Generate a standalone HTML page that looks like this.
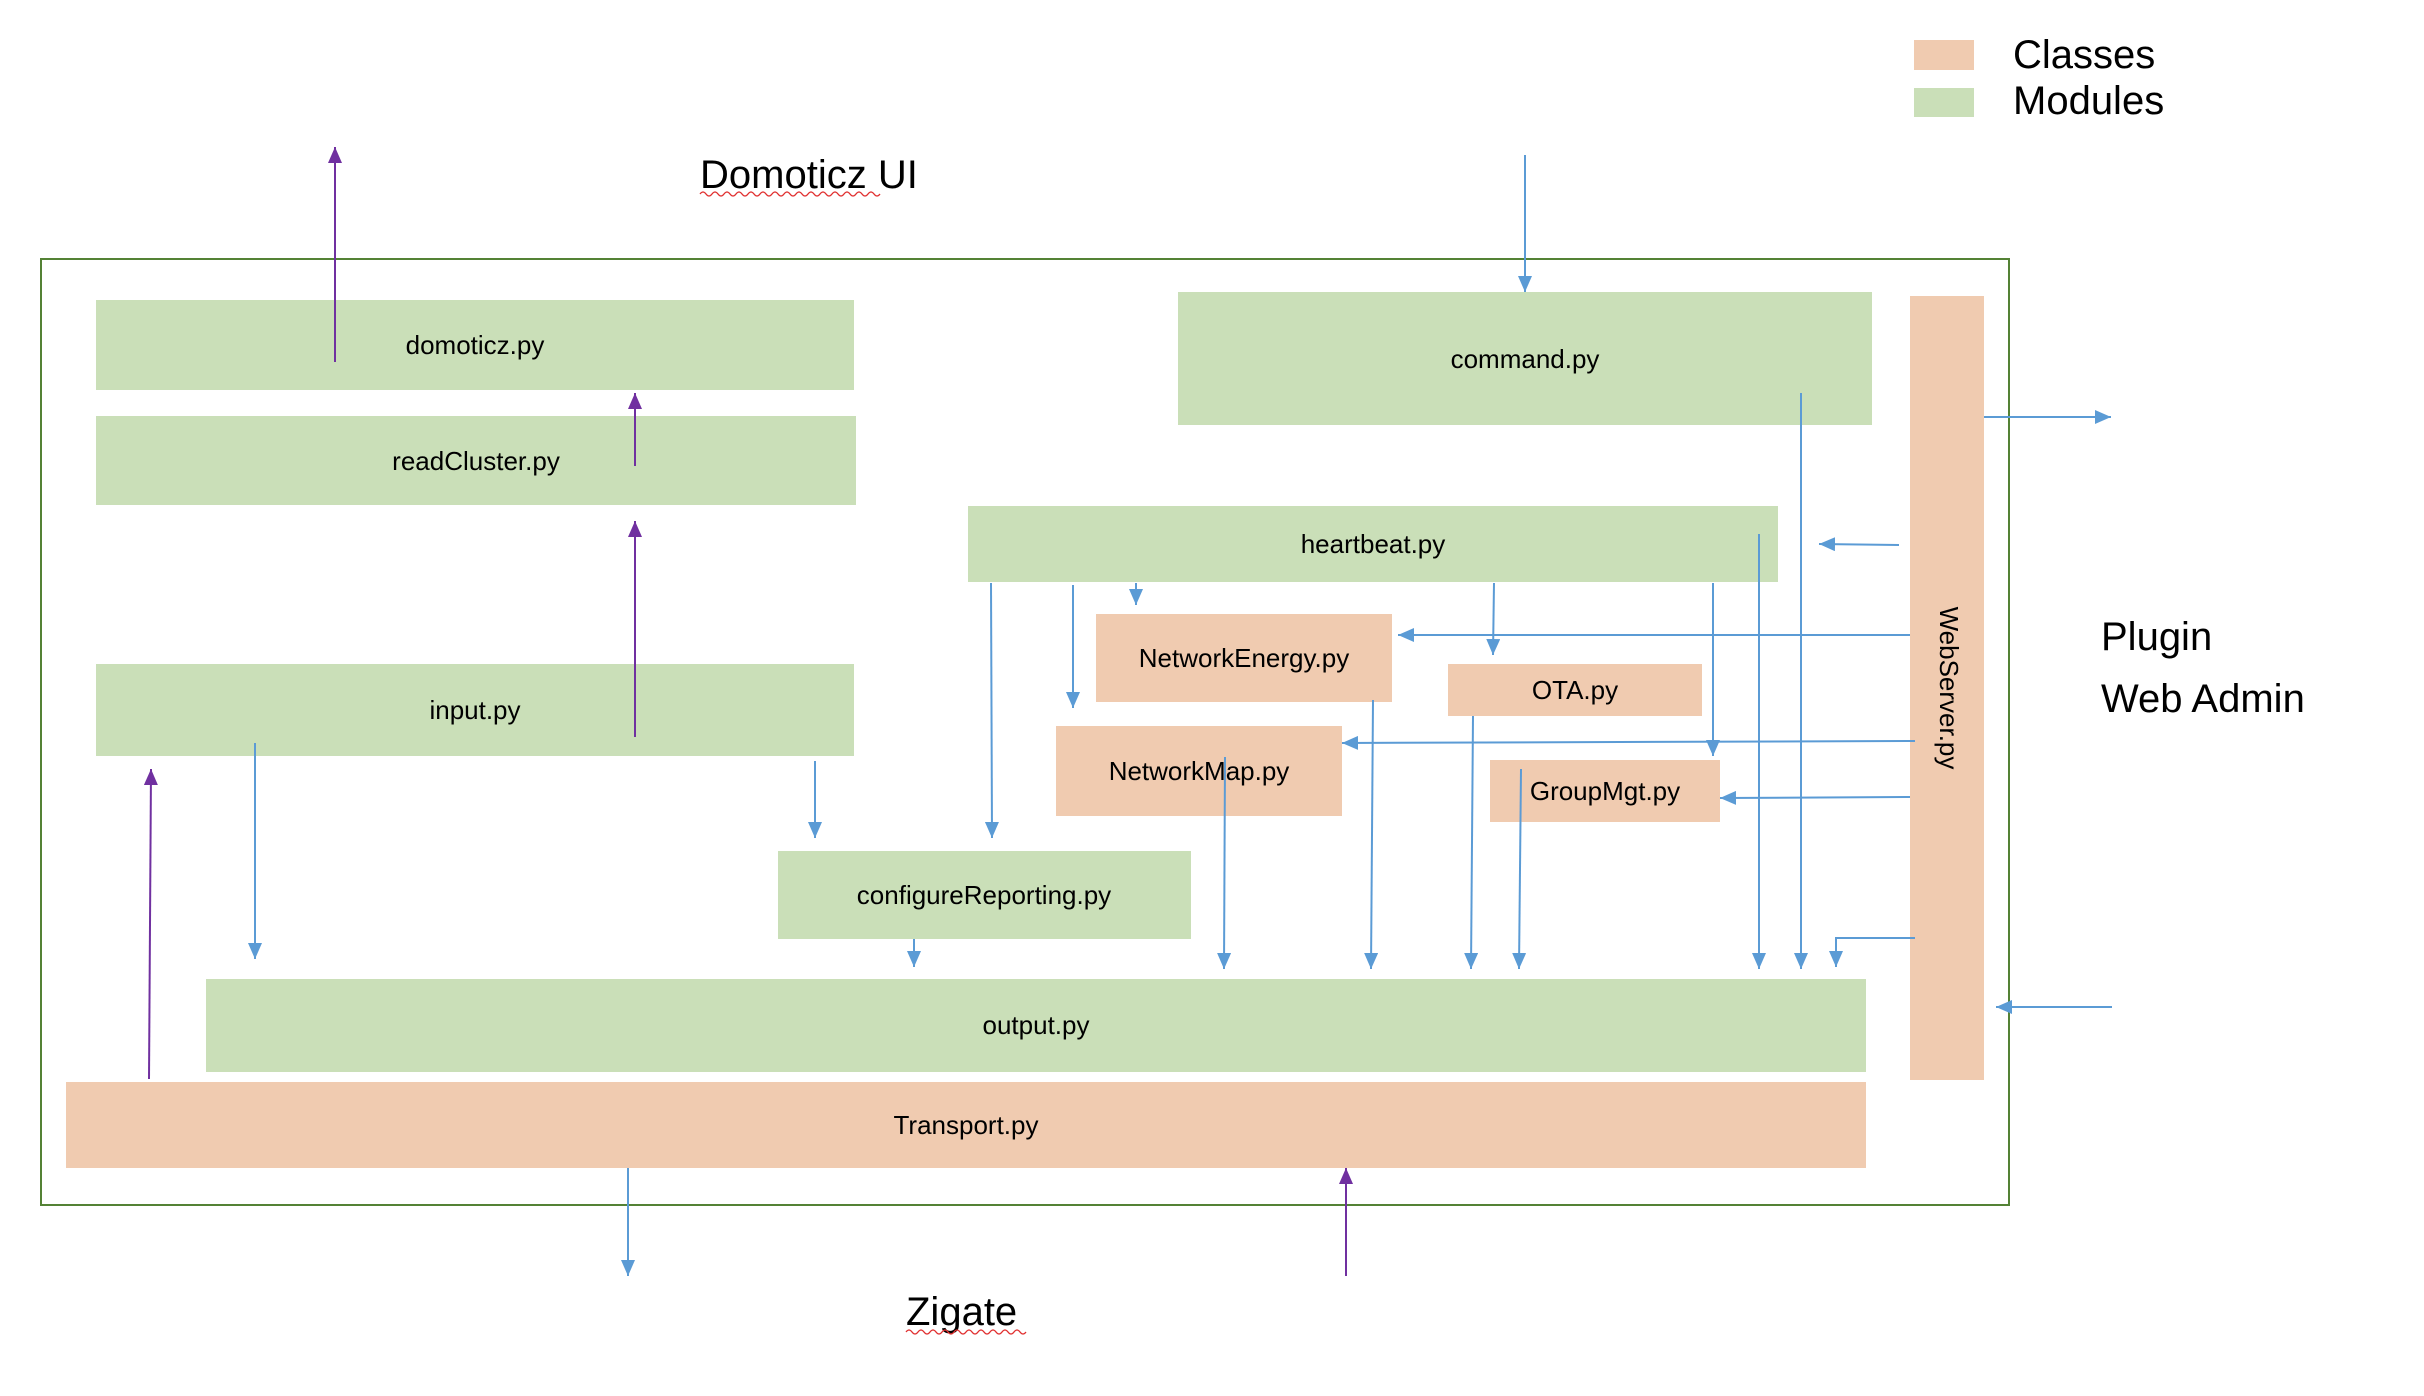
<!DOCTYPE html>
<html><head><meta charset="utf-8"><style>
html,body{margin:0;padding:0;background:#fff;}
svg{display:block;}
text{font-family:"Liberation Sans",sans-serif;fill:#000;}
</style></head><body>
<svg width="2424" height="1396" viewBox="0 0 2424 1396" xmlns="http://www.w3.org/2000/svg">
<defs>
<marker id="b" markerUnits="userSpaceOnUse" markerWidth="16" markerHeight="14" refX="16" refY="7" orient="auto"><path d="M0,0 L16,7 L0,14 Z" fill="#5b9bd5"/></marker>
<marker id="p" markerUnits="userSpaceOnUse" markerWidth="16" markerHeight="14" refX="16" refY="7" orient="auto"><path d="M0,0 L16,7 L0,14 Z" fill="#7030a0"/></marker>
</defs>
<!-- legend -->
<rect x="1914" y="40" width="60" height="30" fill="#f0cbb0"/>
<rect x="1914" y="88" width="60" height="29" fill="#cadfb8"/>
<text x="2013" y="68" font-size="40">Classes</text>
<text x="2013" y="114" font-size="40">Modules</text>
<text x="700" y="188" font-size="40">Domoticz UI</text>
<path d="M700,194 q3,-4 6,0 t6,0 t6,0 t6,0 t6,0 t6,0 t6,0 t6,0 t6,0 t6,0 t6,0 t6,0 t6,0 t6,0 t6,0 t6,0 t6,0 t6,0 t6,0 t6,0 t6,0 t6,0 t6,0 t6,0 t6,0 t6,0 t6,0 t6,0 t6,0 t6,0" fill="none" stroke="#e03030" stroke-width="1.3"/>
<text x="906" y="1325" font-size="40">Zigate</text>
<path d="M906,1332 q3,-4 6,0 t6,0 t6,0 t6,0 t6,0 t6,0 t6,0 t6,0 t6,0 t6,0 t6,0 t6,0 t6,0 t6,0 t6,0 t6,0 t6,0 t6,0 t6,0 t6,0" fill="none" stroke="#e03030" stroke-width="1.3"/>
<text x="2101" y="650" font-size="40">Plugin</text>
<text x="2101" y="712" font-size="40">Web Admin</text>
<!-- outer -->
<rect x="41" y="259" width="1968" height="946" fill="none" stroke="#548235" stroke-width="2"/>
<!-- boxes -->
<g font-size="26" text-anchor="middle">
<rect x="96" y="300" width="758" height="90" fill="#cadfb8"/><text x="475" y="354">domoticz.py</text>
<rect x="96" y="416" width="760" height="89" fill="#cadfb8"/><text x="476" y="470">readCluster.py</text>
<rect x="96" y="664" width="758" height="92" fill="#cadfb8"/><text x="475" y="719">input.py</text>
<rect x="1178" y="292" width="694" height="133" fill="#cadfb8"/><text x="1525" y="368">command.py</text>
<rect x="968" y="506" width="810" height="76" fill="#cadfb8"/><text x="1373" y="553">heartbeat.py</text>
<rect x="1096" y="614" width="296" height="88" fill="#f0cbb0"/><text x="1244" y="667">NetworkEnergy.py</text>
<rect x="1448" y="664" width="254" height="52" fill="#f0cbb0"/><text x="1575" y="699">OTA.py</text>
<rect x="1056" y="726" width="286" height="90" fill="#f0cbb0"/><text x="1199" y="780">NetworkMap.py</text>
<rect x="1490" y="760" width="230" height="62" fill="#f0cbb0"/><text x="1605" y="800">GroupMgt.py</text>
<rect x="778" y="851" width="413" height="88" fill="#cadfb8"/><text x="984" y="904">configureReporting.py</text>
<rect x="206" y="979" width="1660" height="93" fill="#cadfb8"/><text x="1036" y="1034">output.py</text>
<rect x="66" y="1082" width="1800" height="86" fill="#f0cbb0"/><text x="966" y="1134">Transport.py</text>
<rect x="1910" y="296" width="74" height="784" fill="#f0cbb0"/>
<text x="1947" y="688" transform="rotate(90 1947 688)" dominant-baseline="middle">WebServer.py</text>
</g>
<!-- purple arrows -->
<g stroke="#7030a0" stroke-width="2" fill="none" marker-end="url(#p)">
<line x1="335" y1="362" x2="335" y2="147"/>
<line x1="635" y1="466" x2="635" y2="393"/>
<line x1="635" y1="737" x2="635" y2="521"/>
<line x1="149" y1="1079" x2="151" y2="769"/>
<line x1="1346" y1="1276" x2="1346" y2="1168"/>
</g>
<!-- blue arrows -->
<g stroke="#5b9bd5" stroke-width="2" fill="none" marker-end="url(#b)">
<line x1="1525" y1="155" x2="1525" y2="292"/>
<line x1="1984" y1="417" x2="2111" y2="417"/>
<line x1="1899" y1="545" x2="1819" y2="544"/>
<line x1="1910" y1="635" x2="1398" y2="635"/>
<line x1="1915" y1="741" x2="1342" y2="743"/>
<line x1="1910" y1="797" x2="1720" y2="798"/>
<line x1="2112" y1="1007" x2="1996" y2="1007"/>
<polyline points="1915,938 1836,938 1836,967"/>
<line x1="1801" y1="393" x2="1801" y2="969"/>
<line x1="1759" y1="534" x2="1759" y2="969"/>
<line x1="1713" y1="583" x2="1713" y2="756"/>
<line x1="1494" y1="583" x2="1493" y2="655"/>
<line x1="1373" y1="700" x2="1371" y2="969"/>
<line x1="1225" y1="757" x2="1224" y2="969"/>
<line x1="1473" y1="716" x2="1471" y2="969"/>
<line x1="1521" y1="769" x2="1519" y2="969"/>
<line x1="1136" y1="583" x2="1136" y2="605"/>
<line x1="1073" y1="585" x2="1073" y2="708"/>
<line x1="991" y1="583" x2="992" y2="838"/>
<line x1="815" y1="761" x2="815" y2="838"/>
<line x1="255" y1="743" x2="255" y2="959"/>
<line x1="914" y1="939" x2="914" y2="967"/>
<line x1="628" y1="1168" x2="628" y2="1276"/>
</g>
</svg>
</body></html>
